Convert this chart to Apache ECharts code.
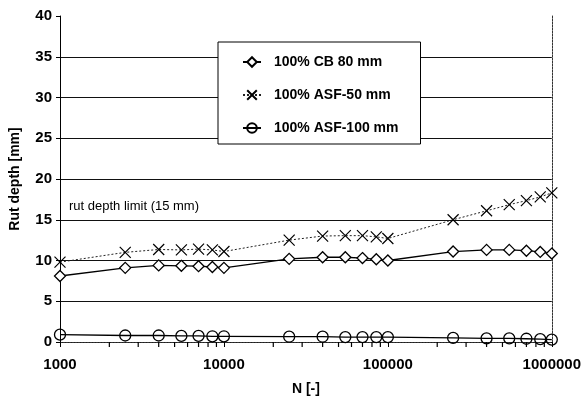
<!DOCTYPE html>
<html>
<head>
<meta charset="utf-8">
<script src="https://cdn.jsdelivr.net/npm/echarts@6/dist/echarts.min.js"></script>
<style>
  html, body { margin: 0; padding: 0; background: #fff; }
  #chart { width: 584px; height: 401px; }
</style>
</head>
<body>
<div id="chart"></div>
<script>
// Number of load repetitions
const loadCycles = [1000, 2500, 4000, 5500, 7000, 8500, 10000,
  25000, 40000, 55000, 70000, 85000, 100000,
  250000, 400000, 550000, 700000, 850000, 1000000];

// Rut depth [mm] per pavement structure
const rutCB80 = [8.1, 9.1, 9.4, 9.35, 9.3, 9.2, 9.1,
  10.2, 10.4, 10.4, 10.3, 10.15, 10.0,
  11.1, 11.3, 11.3, 11.2, 11.05, 10.85];
const rutASF50 = [9.8, 11.0, 11.35, 11.3, 11.4, 11.3, 11.1,
  12.5, 13.0, 13.05, 13.05, 12.9, 12.7,
  15.0, 16.1, 16.85, 17.35, 17.8, 18.3];
const rutASF100 = [0.9, 0.8, 0.8, 0.75, 0.75, 0.7, 0.7,
  0.65, 0.65, 0.6, 0.6, 0.6, 0.6,
  0.5, 0.45, 0.45, 0.4, 0.35, 0.3];

const seriesNames = ['100% CB 80 mm', '100% ASF-50 mm', '100% ASF-100 mm'];
const xTickLabels = ['1000', '10000', '100000', '1000000'];
const yTicks = [0, 5, 10, 15, 20, 25, 30, 35, 40];
const limitNote = 'rut depth limit (15 mm)';

// log-axis minor tick positions (2..9 within each decade)
const minorTickValues = [];
[1000, 10000, 100000].forEach(function (d) {
  for (let k = 2; k <= 9; k++) minorTickValues.push(d * k);
});

const FONT = '"Liberation Sans", Arial, sans-serif';
const black = '#000';

const chart = echarts.init(document.getElementById('chart'), null, { renderer: 'canvas' });

const crossPath = 'path://M0,0L10,10M10,0L0,10';
const hollow = 'rgba(0,0,0,0)';

chart.setOption({
  animation: false,
  backgroundColor: '#fff',
  grid: { left: 59, right: 32, top: 16, bottom: 59, containLabel: false },
  legend: {
    orient: 'vertical',
    left: 218,
    top: 42,
    backgroundColor: '#fff',
    borderColor: black,
    borderWidth: 1,
    borderRadius: 0,
    padding: [13, 22, 9, 24],
    itemGap: 19,
    itemWidth: 18,
    itemHeight: 12,
    data: seriesNames,
    textStyle: {
      fontFamily: FONT, fontWeight: 'bold', fontSize: 14, color: black,
      padding: [0, 0, 0, 8]
    }
  },
  xAxis: [{
    type: 'log',
    logBase: 10,
    min: 1000,
    max: 1000000,
    name: 'N [-]',
    nameLocation: 'middle',
    nameGap: 40,
    nameTextStyle: { fontFamily: FONT, fontWeight: 'bold', fontSize: 14, color: black },
    axisLine: { lineStyle: { color: black, width: 1 } },
    axisTick: { show: true, inside: false, length: 5, lineStyle: { color: black } },
    axisLabel: {
      fontFamily: FONT, fontWeight: 'bold', fontSize: 15, color: black, margin: 15,
      formatter: function (v) {
        const s = String(Math.round(v));
        return xTickLabels.indexOf(s) >= 0 ? s : '';
      }
    },
    splitLine: { show: false }
  }, {
    type: 'log',
    logBase: 10,
    min: 1000,
    max: 1000000,
    position: 'top',
    axisLine: { lineStyle: { color: '#333', width: 1, type: [2, 1] } },
    axisTick: { show: false },
    axisLabel: { show: false },
    splitLine: { show: false }
  }],
  yAxis: [{
    type: 'value',
    min: yTicks[0],
    max: yTicks[yTicks.length - 1],
    interval: 5,
    name: 'Rut depth [mm]',
    nameLocation: 'middle',
    nameGap: 38,
    nameTextStyle: { fontFamily: FONT, fontWeight: 'bold', fontSize: 14, color: black },
    axisLine: { show: true, lineStyle: { color: black, width: 1 } },
    axisTick: { show: true, inside: false, length: 4, lineStyle: { color: black } },
    axisLabel: { fontFamily: FONT, fontWeight: 'bold', fontSize: 15, color: black, margin: 8 },
    splitLine: {
      show: true,
      showMaxLine: false,
      lineStyle: { color: '#111', width: 1.2 }
    }
  }, {
    type: 'value',
    min: yTicks[0],
    max: yTicks[yTicks.length - 1],
    position: 'right',
    axisLine: { show: true, lineStyle: { color: '#333', width: 1, type: [2, 1] } },
    axisTick: { show: false },
    axisLabel: { show: false },
    splitLine: { show: false }
  }],
  graphic: [{
    type: 'text',
    left: 69,
    top: 200,
    style: { text: limitNote, fontFamily: FONT, fontSize: 13, fill: black }
  }],
  series: [{
    name: seriesNames[0],
    type: 'line',
    xAxisIndex: 0,
    yAxisIndex: 0,
    data: loadCycles.map(function (n, i) { return [n, rutCB80[i]]; }),
    symbol: 'diamond',
    symbolSize: [11, 11],
    showAllSymbol: true,
    lineStyle: { color: black, width: 1.3 },
    itemStyle: { color: '#fff', borderColor: black, borderWidth: 1.3 },
    z: 3
  }, {
    name: seriesNames[1],
    type: 'line',
    xAxisIndex: 0,
    yAxisIndex: 0,
    data: loadCycles.map(function (n, i) { return [n, rutASF50[i]]; }),
    symbol: crossPath,
    symbolSize: 11,
    showAllSymbol: true,
    lineStyle: { color: '#222', width: 1, type: [2, 2] },
    itemStyle: { color: hollow, borderColor: black, borderWidth: 1.2 },
    z: 3
  }, {
    name: seriesNames[2],
    type: 'line',
    xAxisIndex: 0,
    yAxisIndex: 0,
    data: loadCycles.map(function (n, i) { return [n, rutASF100[i]]; }),
    symbol: 'circle',
    symbolSize: 11,
    showAllSymbol: true,
    lineStyle: { color: black, width: 1.3 },
    itemStyle: { color: hollow, borderColor: black, borderWidth: 1.3 },
    z: 3
  }, {
    // minor ticks hanging below the log axis
    type: 'custom',
    name: 'minorTicks',
    coordinateSystem: 'cartesian2d',
    xAxisIndex: 0,
    yAxisIndex: 0,
    silent: true,
    clip: false,
    data: minorTickValues.map(function (v) { return [v, 0]; }),
    encode: { x: 0, y: 1 },
    renderItem: function (params, api) {
      const p = api.coord([api.value(0), api.value(1)]);
      return {
        type: 'line',
        shape: { x1: p[0], y1: p[1], x2: p[0], y2: p[1] + 5 },
        style: { stroke: black, lineWidth: 1.2 }
      };
    },
    z: 5
  }]
});
</script>
</body>
</html>
